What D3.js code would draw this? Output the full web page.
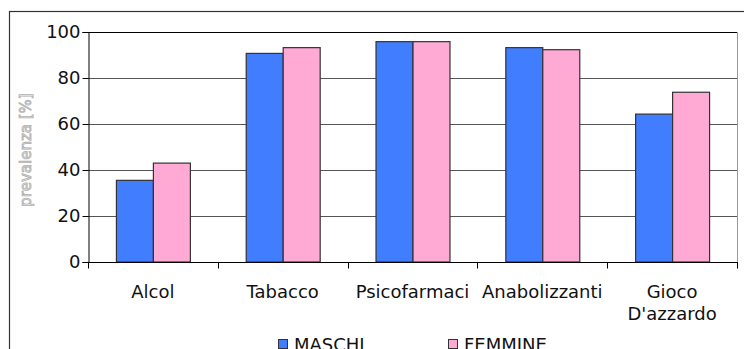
<!DOCTYPE html>
<html><head><meta charset="utf-8">
<script src="https://cdn.jsdelivr.net/npm/d3@7"></script>
<style>body{margin:0;background:#fff}svg{display:block}</style>
</head><body><svg id="c" width="744" height="349"></svg>
<script>
const categories = ["Alcol", "Tabacco", "Psicofarmaci", "Anabolizzanti", "Gioco D'azzardo"];
const series = ["MASCHI", "FEMMINE"];
const maschi = [35.5, 90.7, 95.8, 93.2, 64.3];
const femmine = [43.0, 93.2, 95.8, 92.3, 73.8];
const yTicks = [0, 20, 40, 60, 80, 100];
const yLabel = "prevalenza [%]";
const colors = {MASCHI: "#417dff", FEMMINE: "#ffaad5"};

const svg = d3.select("#c");
const font = "'DejaVu Sans', Verdana, sans-serif";
const L = 88, R = 737, T = 32, B = 262;

// outer frame
svg.append("rect").attr("x", 9.5).attr("y", 11.5).attr("width", 800).attr("height", 400)
  .attr("fill", "#fff").attr("stroke", "#333").attr("stroke-width", 1.2);

const x0 = d3.scaleBand().domain(categories).range([L, R]).padding(0);
const x1 = d3.scaleBand().domain(series).range([0, x0.bandwidth()]).paddingInner(0).paddingOuter(0.755);
const y = d3.scaleLinear().domain([0, 100]).range([B, T]);

// gridlines
svg.append("g").selectAll("line").data(yTicks.filter(d => d > 0 && d < 100)).join("line")
  .attr("x1", L).attr("x2", R).attr("y1", d => Math.round(y(d)) + 0.5).attr("y2", d => Math.round(y(d)) + 0.5)
  .attr("stroke", "#555").attr("stroke-width", 1);
// plot border top / right
svg.append("line").attr("x1", L).attr("x2", R).attr("y1", T + 0.5).attr("y2", T + 0.5).attr("stroke", "#000");
svg.append("line").attr("x1", R + 0.5).attr("x2", R + 0.5).attr("y1", T).attr("y2", B).attr("stroke", "#999");

// bars
const data = categories.map((c, i) => ({c, vals: [{s: "MASCHI", v: maschi[i]}, {s: "FEMMINE", v: femmine[i]}]}));
svg.append("g").selectAll("g").data(data).join("g")
  .attr("transform", d => `translate(${x0(d.c)},0)`)
  .selectAll("rect").data(d => d.vals).join("rect")
  .attr("x", d => x1(d.s) + 0.5).attr("width", x1.bandwidth())
  .attr("y", d => y(d.v)).attr("height", d => B - y(d.v))
  .attr("fill", d => colors[d.s]).attr("stroke", "#333").attr("stroke-width", 1.2);

// y axis
const yAxis = d3.axisLeft(y).tickValues(yTicks).tickSize(6).tickPadding(2);
const gy = svg.append("g").attr("transform", `translate(${L + 0.5},0)`).call(yAxis);
gy.select(".domain").attr("stroke", "#000");
gy.selectAll(".tick line").attr("stroke", "#000");
gy.selectAll("text").attr("font-family", font).attr("font-size", 18).attr("fill", "#111");

// x axis
const gx = svg.append("g").attr("transform", `translate(0,${B + 0.5})`);
gx.append("line").attr("x1", L).attr("x2", R + 1).attr("stroke", "#000");
const bounds = categories.map(c => x0(c)).concat([R]);
gx.selectAll("line.t").data(bounds).join("line").attr("class", "t")
  .attr("x1", d => Math.round(d) + 0.5).attr("x2", d => Math.round(d) + 0.5).attr("y1", 0).attr("y2", 6)
  .attr("stroke", "#000");
const labels = gx.selectAll("text").data(categories).join("text")
  .attr("x", d => x0(d) + x0.bandwidth() / 2).attr("y", 35)
  .attr("text-anchor", "middle").attr("font-family", font).attr("font-size", 18).attr("fill", "#111");
labels.each(function(d) {
  const parts = d === "Gioco D'azzardo" ? ["Gioco", "D'azzardo"] : [d];
  d3.select(this).selectAll("tspan").data(parts).join("tspan")
    .attr("x", x0(d) + x0.bandwidth() / 2).attr("dy", (p, i) => i === 0 ? 0 : 22).text(p => p);
});

// y label
svg.append("text").attr("transform", "translate(31,150) rotate(-90)")
  .attr("text-anchor", "middle").attr("font-family", font).attr("font-size", 15)
  .attr("fill", "#eeeeee").attr("stroke", "#b0b0b0").attr("stroke-width", 0.8).text(yLabel);

// legend
const legX = [278, 448];
series.forEach((s, i) => {
  svg.append("rect").attr("x", legX[i] + 0.5).attr("y", 339.5).attr("width", 9).attr("height", 9)
    .attr("fill", colors[s]).attr("stroke", "#333").attr("stroke-width", 1);
  svg.append("text").attr("x", legX[i] + 16).attr("y", 351).attr("font-family", font)
    .attr("font-size", 18).attr("fill", "#111").text(s);
});
</script></body></html>
